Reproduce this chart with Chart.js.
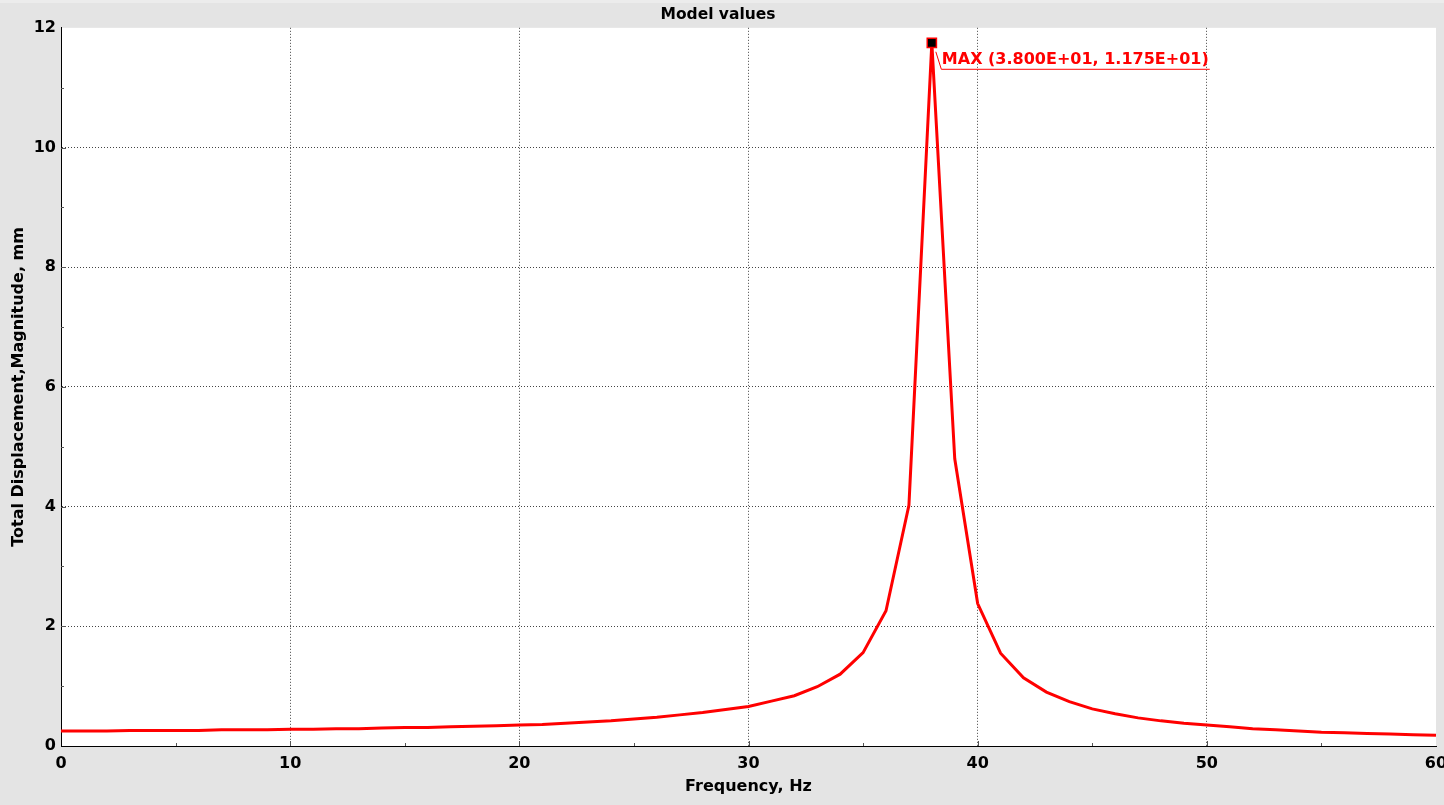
<!DOCTYPE html>
<html lang="en">

<head>
    <meta charset="UTF-8">
    <title>Model values</title>
    <script src="https://cdn.jsdelivr.net/npm/chart.js"></script>
    <style>
        body {
            margin: 0;
            background-color: #e4e4e4;
        }

        .container {
            width: 1444px;
            height: 805px;
        }
    </style>
</head>

<body>
    <div class="container">
        <canvas id="modelChart"></canvas>
    </div>

    <script>
        // frequency, Hz
        const frequency = [
            0, 1, 2, 3, 4, 5, 6, 7, 8, 9,
            10, 11, 12, 13, 14, 15, 16, 17, 18, 19,
            20, 21, 22, 23, 24, 25, 26, 27, 28, 29,
            30, 31, 32, 33, 34, 35, 36, 37, 38, 39,
            40, 41, 42, 43, 44, 45, 46, 47, 48, 49,
            50, 51, 52, 53, 54, 55, 56, 57, 58, 59, 60
        ];
        // total displacement magnitude, mm
        const magnitude = [
            0.25, 0.25, 0.25, 0.26, 0.26, 0.26, 0.26, 0.27, 0.27, 0.27,
            0.28, 0.28, 0.29, 0.29, 0.30, 0.31, 0.31, 0.32, 0.33, 0.34,
            0.35, 0.36, 0.38, 0.40, 0.42, 0.45, 0.48, 0.52, 0.56, 0.61,
            0.66, 0.75, 0.84, 0.99, 1.20, 1.56, 2.26, 4.02, 11.75, 4.80,
            2.38, 1.55, 1.14, 0.90, 0.74, 0.62, 0.54, 0.47, 0.42, 0.38,
            0.35, 0.32, 0.29, 0.27, 0.25, 0.23, 0.22, 0.21, 0.20, 0.19, 0.18
        ];
        const xTicks = [0, 10, 20, 30, 40, 50, 60];
        const yTicks = [0, 2, 4, 6, 8, 10, 12];

        const peakIndex = magnitude.indexOf(Math.max(...magnitude));

        function sci(v) {
            // 38 -> 3.800E+01
            return v.toExponential(3).toUpperCase().replace(/E([+-])(\d)$/, 'E$10$2');
        }
        const peakLabel = 'MAX (' + sci(frequency[peakIndex]) + ', ' + sci(magnitude[peakIndex]) + ')';

        const FONT = 'DejaVu Sans, Verdana, sans-serif';
        const hideEdge = (lo, hi) => c => (c.tick && (c.tick.value === lo || c.tick.value === hi)) ? 'rgba(0,0,0,0)' : '#444';

        // gray frame + white plot area
        const backgroundPlugin = {
            id: 'background',
            beforeDraw(chart) {
                const { ctx, chartArea: a } = chart;
                ctx.save();
                ctx.fillStyle = '#e4e4e4';
                ctx.fillRect(0, 0, chart.width, chart.height);
                ctx.fillStyle = '#ececec';
                ctx.fillRect(0, 0, chart.width, 3);
                ctx.fillStyle = '#ffffff';
                ctx.fillRect(a.left, a.top, a.right - a.left, a.bottom - a.top);
                ctx.restore();
            }
        };

        // inward tick marks (major + minor)
        const tickMarksPlugin = {
            id: 'tickMarks',
            afterDatasetsDraw(chart) {
                const { ctx, chartArea: a, scales } = chart;
                ctx.save();
                ctx.strokeStyle = '#555';
                ctx.lineWidth = 1;
                ctx.beginPath();
                for (let i = 0; i < xTicks.length; i++) {
                    const px = Math.round(scales.x.getPixelForValue(xTicks[i])) + 0.5;
                    if (i > 0 && i < xTicks.length - 1) {
                        ctx.moveTo(px, a.bottom);
                        ctx.lineTo(px, a.bottom - 5);
                    }
                    if (i < xTicks.length - 1) {
                        const mx = Math.round(scales.x.getPixelForValue((xTicks[i] + xTicks[i + 1]) / 2)) + 0.5;
                        ctx.moveTo(mx, a.bottom);
                        ctx.lineTo(mx, a.bottom - 3);
                    }
                }
                for (let i = 0; i < yTicks.length; i++) {
                    const py = Math.round(scales.y.getPixelForValue(yTicks[i])) + 0.5;
                    if (i > 0 && i < yTicks.length - 1) {
                        ctx.moveTo(a.left, py);
                        ctx.lineTo(a.left + 5, py);
                    }
                    if (i < yTicks.length - 1) {
                        const my = Math.round(scales.y.getPixelForValue((yTicks[i] + yTicks[i + 1]) / 2)) + 0.5;
                        ctx.moveTo(a.left, my);
                        ctx.lineTo(a.left + 3, my);
                    }
                }
                ctx.stroke();
                ctx.restore();
            }
        };

        // MAX annotation next to the peak point
        const peakPlugin = {
            id: 'peakLabel',
            afterDraw(chart) {
                const pt = chart.getDatasetMeta(0).data[peakIndex];
                if (!pt) return;
                const { ctx } = chart;
                ctx.save();
                ctx.font = 'bold 16px ' + FONT;
                ctx.fillStyle = '#ff0000';
                ctx.textBaseline = 'middle';
                const tx = pt.x + 10;
                const ty = pt.y + 17;
                ctx.fillText(peakLabel, tx, ty);
                const w = ctx.measureText(peakLabel).width;
                ctx.strokeStyle = '#ff0000';
                ctx.lineWidth = 1;
                ctx.beginPath();
                ctx.moveTo(pt.x + 4, pt.y + 9);
                ctx.lineTo(pt.x + 9.5, pt.y + 26.5);
                ctx.lineTo(tx + w + 1, pt.y + 26.5);
                ctx.stroke();
                ctx.restore();
            }
        };

        function renderChart() {
            const ctx = document.getElementById('modelChart').getContext('2d');
            const points = frequency.map((f, i) => ({ x: f, y: magnitude[i] }));

            new Chart(ctx, {
                type: 'line',
                data: {
                    datasets: [{
                        label: 'Model values',
                        data: points,
                        borderColor: '#ff0000',
                        borderWidth: 3,
                        tension: 0,
                        pointStyle: 'rect',
                        pointRadius: c => c.dataIndex === peakIndex ? 6.5 : 0,
                        pointBackgroundColor: '#000000',
                        pointBorderColor: '#ff0000',
                        pointBorderWidth: 1.5,
                        clip: false
                    }]
                },
                options: {
                    responsive: true,
                    maintainAspectRatio: false,
                    animation: false,
                    layout: {
                        padding: { right: 8 }
                    },
                    plugins: {
                        legend: { display: false },
                        tooltip: { enabled: false },
                        title: {
                            display: true,
                            text: 'Model values',
                            color: '#000',
                            font: { family: FONT, size: 15.5, weight: 'bold', lineHeight: 1.15 },
                            padding: { top: 6, bottom: 4 }
                        }
                    },
                    scales: {
                        x: {
                            type: 'linear',
                            min: 0,
                            max: 60,
                            afterBuildTicks: s => { s.ticks = xTicks.map(v => ({ value: v })); },
                            afterFit: s => { s.height = 59; s.paddingLeft = 0; s.paddingRight = 0; },
                            ticks: {
                                color: '#000',
                                padding: 8,
                                maxRotation: 0,
                                font: { family: FONT, size: 16, weight: 'bold' }
                            },
                            grid: {
                                drawTicks: false,
                                color: hideEdge(0, 60),
                                lineWidth: 1
                            },
                            border: { display: true, color: '#000', width: 1, dash: [1, 2] },
                            title: {
                                display: true,
                                text: 'Frequency, Hz',
                                color: '#000',
                                font: { family: FONT, size: 16, weight: 'bold' },
                                padding: { top: 0, bottom: 8.5 }
                            }
                        },
                        y: {
                            min: 0,
                            max: 12,
                            afterBuildTicks: s => { s.ticks = yTicks.map(v => ({ value: v })); },
                            afterFit: s => { s.width = 61; s.paddingTop = 0; s.paddingBottom = 0; },
                            ticks: {
                                color: '#000',
                                padding: 5,
                                font: { family: FONT, size: 16, weight: 'bold' }
                            },
                            grid: {
                                drawTicks: false,
                                color: hideEdge(0, 12),
                                lineWidth: 1
                            },
                            border: { display: true, color: '#000', width: 1, dash: [1, 2] },
                            title: {
                                display: true,
                                text: 'Total Displacement,Magnitude, mm',
                                color: '#000',
                                font: { family: FONT, size: 16, weight: 'bold' },
                                padding: { top: 9, bottom: 0 }
                            }
                        }
                    }
                },
                plugins: [backgroundPlugin, tickMarksPlugin, peakPlugin]
            });
        }

        document.addEventListener('DOMContentLoaded', renderChart);
    </script>
</body>

</html>
